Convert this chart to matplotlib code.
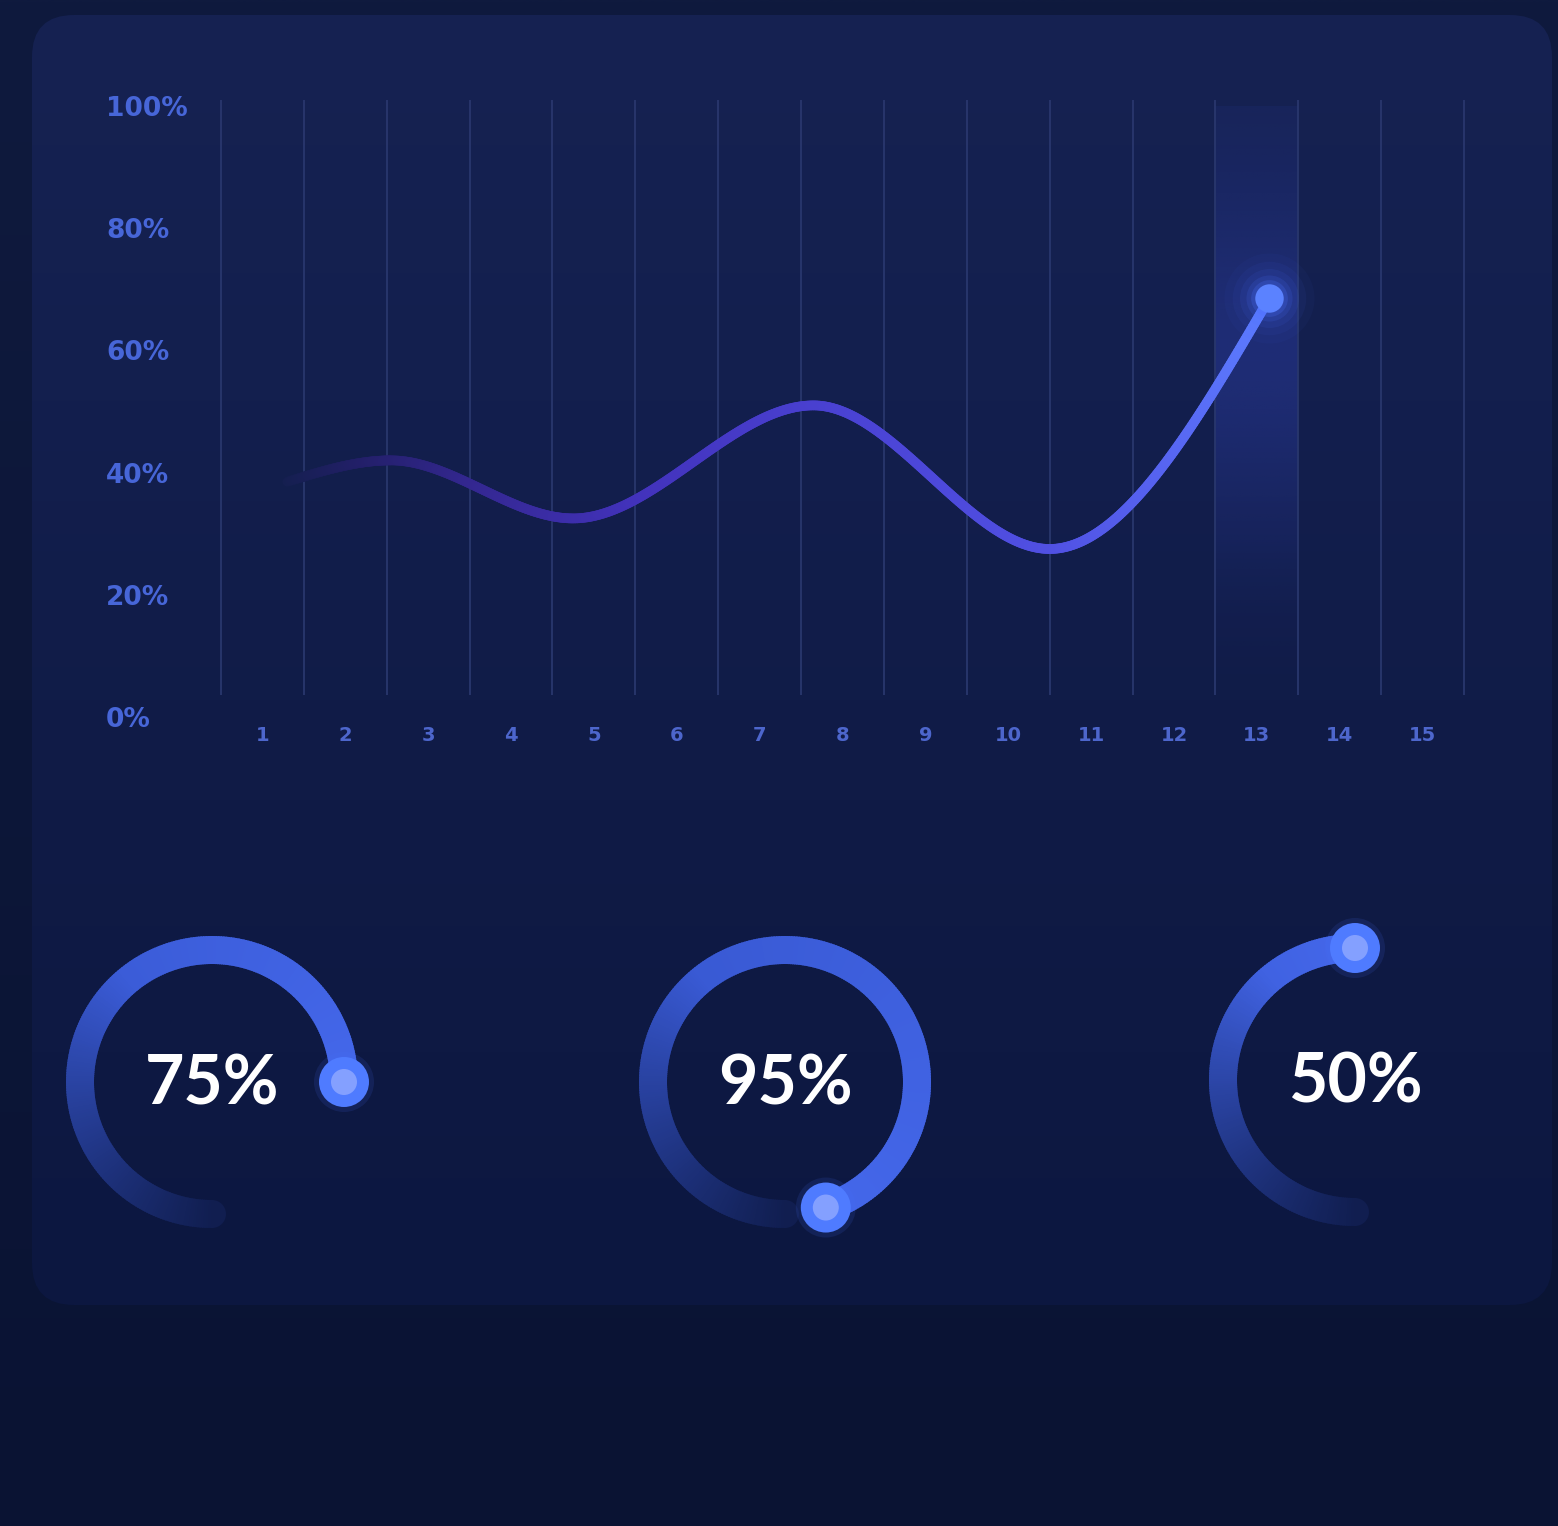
import numpy as np
import matplotlib
matplotlib.use('Agg')
import matplotlib.pyplot as plt
from matplotlib.patches import FancyBboxPatch, Wedge, Circle
from matplotlib.collections import LineCollection
from matplotlib.colors import to_rgb
from matplotlib.bezier import BezierSegment

# ---------------- data ----------------
categories = [str(i) for i in range(1, 16)]
y_ticks = [0, 20, 40, 60, 80, 100]
y_tick_labels = ['0%', '20%', '40%', '60%', '80%', '100%']
curve_x = [1.3, 2.55, 4.75, 7.65, 10.5, 13.15]
curve_y = [38.5, 42.0, 32.5, 51.0, 27.5, 68.5]
highlight_category = 13
gauge_values = [75, 95, 50]
gauge_labels = ['75%', '95%', '50%']

# ---------------- figure ----------------
W, H = 1558, 1526
DPI = 100
fig = plt.figure(figsize=(W / DPI, H / DPI), dpi=DPI)
fig.patch.set_facecolor('#0b1537')


def mix(c1, c2, t):
    a = np.array(to_rgb(c1)); b = np.array(to_rgb(c2))
    return tuple(a + (b - a) * t)


def vgrad(stops_y, stops_c, n=400, top=0, bottom=H):
    ys = np.linspace(top, bottom, n)
    cols = np.array([to_rgb(c) for c in stops_c])
    arr = np.zeros((n, 2, 3))
    for k in range(3):
        arr[:, :, k] = np.interp(ys, stops_y, cols[:, k])[:, None]
    return arr


# background axes in pixel coordinates
bg = fig.add_axes([0, 0, 1, 1])
bg.set_xlim(0, W); bg.set_ylim(H, 0); bg.axis('off')
bg.imshow(vgrad([0, 700, H], ['#0f1a3e', '#0d1739', '#0a1333']),
          extent=[0, W, H, 0], aspect='auto', zorder=0, interpolation='bilinear')

panel = FancyBboxPatch((32, 15), 1520, 1290,
                       boxstyle='round,pad=0,rounding_size=42',
                       facecolor='none', edgecolor='none')
bg.add_patch(panel)
im = bg.imshow(vgrad([15, 400, 800, 1305], ['#162252', '#131f4e', '#101b46', '#0c1740']),
               extent=[0, W, H, 0], aspect='auto', zorder=1, interpolation='bilinear')
im.set_clip_path(panel)
bg.set_xlim(0, W); bg.set_ylim(H, 0)

# ---------------- line chart ----------------
ax_l, ax_r = 221 / W, 1464 / W
ax_b, ax_t = 1 - 717 / H, 1 - 106 / H
ax = fig.add_axes([ax_l, ax_b, ax_r - ax_l, ax_t - ax_b])
ax.patch.set_alpha(0)
for s in ax.spines.values():
    s.set_visible(False)

# highlighted column
ny = 300
yy = np.linspace(3.6, 101, ny)
alpha_prof = (0.40 * np.exp(-((yy - 60) / 28) ** 2) + 0.08) * np.clip((yy - 3.6) / 25, 0, 1)
band = np.zeros((ny, 2, 4))
band[:, :, :3] = to_rgb('#2c3ca0')
band[:, :, 3] = alpha_prof[:, None]
ax.imshow(band, extent=[highlight_category - 0.5, highlight_category + 0.5, 3.6, 101],
          origin='lower', aspect='auto', zorder=0.5, interpolation='bilinear')

# grid lines at band edges
ax.vlines(np.arange(0.5, len(categories) + 1, 1.0), 3.6, 101, color='#29376d',
          lw=1.3, zorder=1, clip_on=False)

# smooth curve (cubic Bezier segments through the key points)
px = np.array(curve_x); py = np.array(curve_y)
n = len(px)
sec = np.diff(py) / np.diff(px)
m = np.zeros(n)
for i in range(1, n - 1):
    m[i] = 0.0 if sec[i - 1] * sec[i] <= 0 else 2.0 / (1 / sec[i - 1] + 1 / sec[i])
m[0] = 1.5 * sec[0] - 0.5 * m[1]
m[-1] = 1.5 * sec[-1] - 0.5 * m[-2]
pts = []
for i in range(n - 1):
    dx = px[i + 1] - px[i]
    cp = np.array([[px[i], py[i]],
                   [px[i] + dx / 3, py[i] + m[i] * dx / 3],
                   [px[i + 1] - dx / 3, py[i + 1] - m[i + 1] * dx / 3],
                   [px[i + 1], py[i + 1]]])
    t = np.linspace(0, 1, 120, endpoint=(i == n - 2))
    pts.append(BezierSegment(cp)(t))
pts = np.vstack(pts)
segs = np.stack([pts[:-1], pts[1:]], axis=1)
midx = (pts[:-1, 0] + pts[1:, 0]) / 2
stop_x = [1.3, 2.2, 3.5, 5.5, 8.0, 10.5, 12.0, 13.15]
stop_c = ['#151f50', '#221f68', '#33278f', '#4232bb', '#4a42d3', '#5050e2', '#5766f2', '#5c7dff']
sc = np.array([to_rgb(c) for c in stop_c])
cols = np.stack([np.interp(midx, stop_x, sc[:, k]) for k in range(3)], axis=1)
ax.add_collection(LineCollection(segs, colors=cols, linewidths=7,
                                 capstyle='round', joinstyle='round', zorder=3))

# glowing end point
ex, ey = curve_x[-1], curve_y[-1]
for s_, a_ in [(4200, 0.04), (2800, 0.06), (1800, 0.09), (1100, 0.14), (700, 0.22)]:
    ax.scatter([ex], [ey], s=s_, color='#4a70ff', alpha=a_, lw=0, zorder=4)
ax.scatter([ex], [ey], s=420, color='#5b82ff', lw=0, zorder=5)

ax.set_xlim(0.5, len(categories) + 0.5)
ax.set_ylim(0, 100)
ax.set_xticks(np.arange(1, len(categories) + 1))
ax.set_xticklabels(categories, fontsize=14, fontweight='bold', color='#4d66cc',
                   family='DejaVu Sans')
ax.set_yticks(y_ticks)
ax.set_yticklabels(y_tick_labels, fontsize=19, fontweight='bold', color='#4766d8',
                   family='DejaVu Sans', ha='left')
ax.tick_params(axis='both', length=0)
ax.tick_params(axis='y', pad=(221 - 106) * 72 / DPI)
ax.tick_params(axis='x', pad=9 * 72 / DPI)

# ---------------- gauges ----------------
gauge_centers = [(212, 1082), (785, 1082), (1355, 1080)]
half = 170  # px
bg_ring = '#0c1740'
for (cx, cy), val, lab in zip(gauge_centers, gauge_values, gauge_labels):
    gax = fig.add_axes([(cx - half) / W, 1 - (cy + half) / H, 2 * half / W, 2 * half / H])
    gax.set_xlim(-1.7, 1.7); gax.set_ylim(-1.7, 1.7)
    gax.set_aspect('equal'); gax.axis('off')
    r_out, width = 1.46, 0.28
    rc = r_out - width / 2
    sweep = val / 100 * 360
    start = 270.0
    steps = int(np.ceil(sweep))
    first_col = None
    for k in range(steps):
        a0 = start - k * sweep / steps
        a1 = start - (k + 1) * sweep / steps
        deg = (k + 0.5) * sweep / steps
        alpha = min(1.0, 0.12 + deg / 160.0)
        base = mix('#3150c4', '#4467ea', deg / sweep)
        col = mix(bg_ring, base, alpha)
        if first_col is None:
            first_col = col
        gax.add_patch(Wedge((0, 0), r_out, a1, a0 + 0.6, width=width,
                            facecolor=col, edgecolor='none', zorder=2))
    # rounded, faded start cap (facing the direction opposite to the sweep)
    sa = np.deg2rad(start)
    gax.add_patch(Wedge((rc * np.cos(sa), rc * np.sin(sa)), width / 2, -90, 90,
                        facecolor=first_col, edgecolor='none', zorder=2))
    end = np.deg2rad(start - sweep)
    kx, ky = rc * np.cos(end), rc * np.sin(end)
    gax.add_patch(Circle((kx, ky), 0.30, facecolor='#4a72ff', alpha=0.12, edgecolor='none', zorder=3))
    gax.add_patch(Circle((kx, ky), 0.25, facecolor='#4f7bff', edgecolor='none', zorder=4))
    gax.add_patch(Circle((kx, ky), 0.13, facecolor='#8ea7ff', alpha=0.85, edgecolor='none', zorder=5))
    gax.text(0, -0.03, lab, ha='center', va='center', fontsize=49, fontweight='bold',
             color='white', family=['Lato', 'DejaVu Sans'], zorder=6)

fig.savefig('out.png', dpi=DPI, facecolor=fig.get_facecolor())
